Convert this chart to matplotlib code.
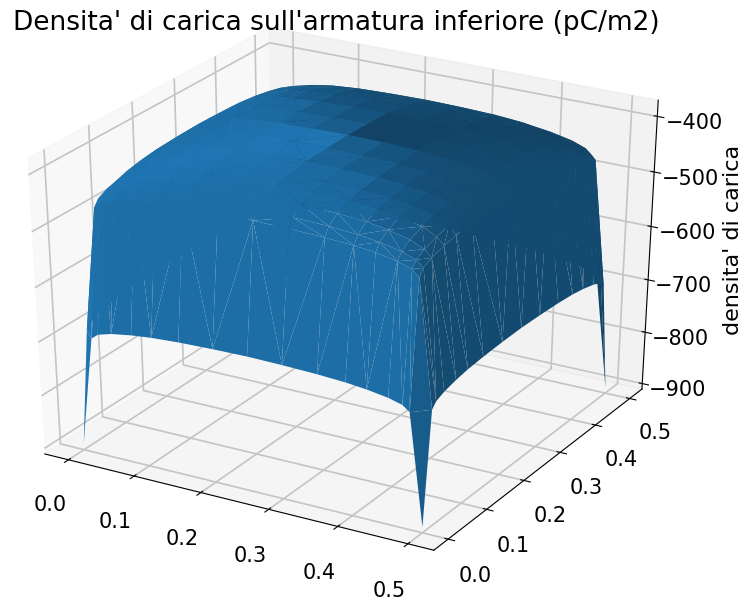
import numpy as np
import matplotlib
matplotlib.use("Agg")
import matplotlib.pyplot as plt

# distance of the mesh nodes from the plate edge
edge_dist = [0, .02, .03, .05, .08, .11, .15, .2, .25]

# charge density on one quarter of the plate
density_quarter = [
    [-900, -695, -685, -678, -672, -668, -665, -663, -662],
    [-695, -468, -456, -448, -441, -437, -434, -432, -431],
    [-685, -456, -445, -436, -428, -423, -419, -417, -416],
    [-678, -448, -436, -425, -416, -410, -406, -404, -403],
    [-672, -441, -428, -416, -407, -401, -397, -395, -394],
    [-668, -437, -423, -410, -401, -396, -392, -390, -389],
    [-665, -434, -419, -406, -397, -392, -388, -386, -385],
    [-663, -432, -417, -404, -395, -390, -386, -384, -383],
    [-662, -431, -416, -403, -394, -389, -385, -383, -382],
]

xy_ticks = [0.0, 0.1, 0.2, 0.3, 0.4, 0.5]
z_ticks = [-900, -800, -700, -600, -500, -400]

# Mirror the quarter to get the whole plate
d = np.array(edge_dist)
nodes = np.concatenate([d, 0.5 - d[::-1][1:]])
q = np.array(density_quarter, dtype=float)
top = np.hstack([q, q[:, ::-1][:, 1:]])
z = np.vstack([top, top[::-1][1:]])
X, Y = np.meshgrid(nodes, nodes)

plt.rcParams["grid.linewidth"] = 1.2
plt.rcParams["grid.color"] = "#c4c4c4"

fig = plt.figure(figsize=(7.55, 6), dpi=100)
ax = fig.add_axes([-0.052, 0.05, 1.0, 0.945], projection="3d")
# the reference cube is wider than tall, so let it fill the axes box
ax.apply_aspect = lambda position=None: None
ax.set_box_aspect((1, 1, 1))
surf = ax.plot_trisurf(X.ravel(), Y.ravel(), z.ravel())

# Shadows in the reference are not as deep as the default shading
base = np.array(matplotlib.colors.to_rgb("C0"))
fc = surf._facecolor3d.copy()
bright = fc[:, 0] / base[0]
fc[:, :3] = np.outer(0.55 + (bright - 0.3) / 0.7 * 0.45, base)
surf.set_facecolor(fc)

ax.set_xticks(xy_ticks)
ax.set_yticks(xy_ticks)
ax.set_zticks(z_ticks)
ax.tick_params(labelsize=15)
ax.tick_params(axis="x", pad=12)
ax.tick_params(axis="y", pad=9)
ax.tick_params(axis="z", pad=7)
ax.zaxis.set_rotate_label(False)
ax.set_zlabel("densita' di carica", fontsize=16, rotation=90, labelpad=14)
fig.text(0.017, 0.95, "Densita' di carica sull'armatura inferiore (pC/m2)", fontsize=19)

plt.savefig("out.png", dpi=100)
plt.close()
